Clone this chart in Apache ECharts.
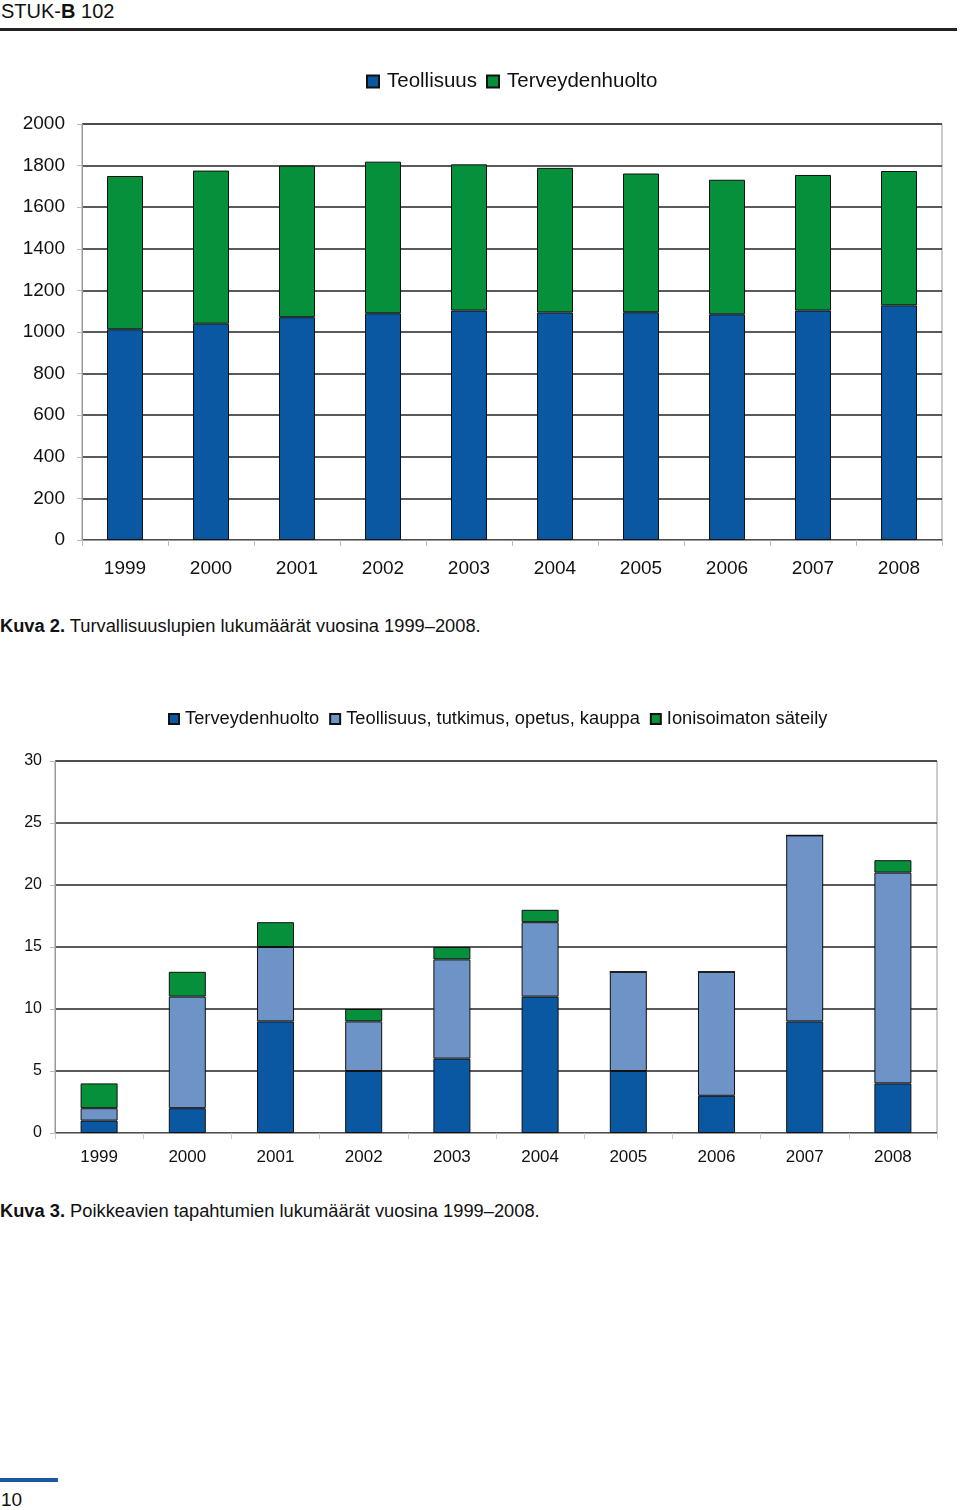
<!DOCTYPE html>
<html>
<head>
<meta charset="utf-8">
<script src="https://cdn.jsdelivr.net/npm/echarts@6/dist/echarts.min.js"></script>
<style>
  html, body { margin:0; padding:0; background:#fff; width:960px; height:1510px; overflow:hidden; }
  body { position:relative; font-family:"Liberation Sans", Arial, sans-serif; color:#111; }
  .t { position:absolute; white-space:nowrap; }
  #c1 { position:absolute; left:0; top:0; width:960px; height:600px; }
  #c2 { position:absolute; left:0; top:640px; width:960px; height:560px; }
</style>
</head>
<body>
<div class="t" style="left:1px; top:0px; font-size:20px; line-height:22px;">STUK-<b>B</b> 102</div>
<div style="position:absolute; left:0; top:28px; width:957px; height:3px; background:#222;"></div>
<div id="c1"></div>
<div class="t" style="left:0px; top:616px; font-size:18.3px; line-height:20px;"><b>Kuva 2.</b> Turvallisuuslupien lukumäärät vuosina 1999–2008.</div>
<div id="c2"></div>
<div class="t" style="left:0px; top:1201px; font-size:18.3px; line-height:20px;"><b>Kuva 3.</b> Poikkeavien tapahtumien lukumäärät vuosina 1999–2008.</div>
<div style="position:absolute; left:0; top:1478px; width:58px; height:4px; background:#1a5a9c;"></div>
<div class="t" style="left:1px; top:1489px; font-size:19px; line-height:22px;">10</div>
<script>
// ---- Data: chart 1 (Kuva 2) ----
var years = ['1999','2000','2001','2002','2003','2004','2005','2006','2007','2008'];
var teollisuus1 = [1013, 1040, 1071, 1090, 1103, 1094, 1095, 1085, 1103, 1128];
var terveydenhuolto1 = [737, 736, 729, 729, 703, 695, 667, 647, 652, 646];
var yTicks1 = { min: 0, max: 2000, interval: 200 };

// ---- Data: chart 2 (Kuva 3) ----
var terveydenhuolto2 = [1, 2, 9, 5, 6, 11, 5, 3, 9, 4];
var teollisuus2 = [1, 9, 6, 4, 8, 6, 8, 10, 15, 17];
var ionisoimaton2 = [2, 2, 2, 1, 1, 1, 0, 0, 0, 1];
var yTicks2 = { min: 0, max: 30, interval: 5 };

var DARK = '#0b58a2', GREEN = '#06903b', LIGHT = '#6e93c7';
var FONT = '"Liberation Sans", Arial, sans-serif';

function barSeries(name, data, color, width) {
  return {
    name: name, type: 'bar', stack: 's', data: data, barWidth: width,
    itemStyle: { color: color, borderColor: '#111', borderWidth: 1 },
    emphasis: { disabled: true }, animation: false
  };
}
function plain(v) { return String(v); }

var c1 = echarts.init(document.getElementById('c1'));
c1.setOption({
  animation: false,
  textStyle: { fontFamily: FONT },
  legend: {
    left: 366, top: 71, padding: 0, itemWidth: 12, itemHeight: 12, itemGap: 9,
    icon: 'rect',
    textStyle: { fontSize: 20.5, color: '#111', fontFamily: FONT, padding: [0, 0, 0, 3] },
    data: ['Teollisuus', 'Terveydenhuolto']
  },
  grid: { left: 82, top: 124, width: 860, height: 416, show: true, borderColor: '#999', borderWidth: 1 },
  xAxis: {
    type: 'category', data: years,
    axisLine: { lineStyle: { color: '#999' } },
    axisTick: { show: true, length: 6, lineStyle: { color: '#bbb' } },
    axisLabel: { fontSize: 19, color: '#111', margin: 19, fontFamily: FONT }
  },
  yAxis: {
    type: 'value', min: yTicks1.min, max: yTicks1.max, interval: yTicks1.interval,
    axisLine: { show: true, lineStyle: { color: '#999' } },
    axisTick: { show: true, length: 5, lineStyle: { color: '#bbb' } },
    axisLabel: { fontSize: 19, color: '#111', margin: 17, fontFamily: FONT, formatter: plain },
    splitLine: { lineStyle: { color: '#222', width: 1.5 } }
  },
  series: [
    barSeries('Teollisuus', teollisuus1, DARK, 36),
    barSeries('Terveydenhuolto', terveydenhuolto1, GREEN, 36)
  ]
});

var c2 = echarts.init(document.getElementById('c2'));
c2.setOption({
  animation: false,
  textStyle: { fontFamily: FONT },
  legend: {
    left: 168, top: 70, padding: 0, itemWidth: 10, itemHeight: 10, itemGap: 10,
    icon: 'rect',
    textStyle: { fontSize: 18.3, color: '#111', fontFamily: FONT, padding: [0, 0, 0, 1] },
    data: ['Terveydenhuolto', 'Teollisuus, tutkimus, opetus, kauppa', 'Ionisoimaton säteily']
  },
  grid: { left: 55, top: 121, width: 882, height: 372, show: true, borderColor: '#999', borderWidth: 1 },
  xAxis: {
    type: 'category', data: years,
    axisLine: { lineStyle: { color: '#999' } },
    axisTick: { show: true, length: 6, lineStyle: { color: '#ccc' } },
    axisLabel: { fontSize: 17, color: '#111', margin: 16, fontFamily: FONT }
  },
  yAxis: {
    type: 'value', min: yTicks2.min, max: yTicks2.max, interval: yTicks2.interval,
    axisLine: { show: true, lineStyle: { color: '#999' } },
    axisTick: { show: true, length: 5, lineStyle: { color: '#bbb' } },
    axisLabel: { fontSize: 16, color: '#111', margin: 13, fontFamily: FONT, formatter: plain },
    splitLine: { lineStyle: { color: '#222', width: 1.5 } }
  },
  series: [
    barSeries('Terveydenhuolto', terveydenhuolto2, DARK, 37),
    barSeries('Teollisuus, tutkimus, opetus, kauppa', teollisuus2, LIGHT, 37),
    barSeries('Ionisoimaton säteily', ionisoimaton2, GREEN, 37)
  ]
});
</script>
</body>
</html>
